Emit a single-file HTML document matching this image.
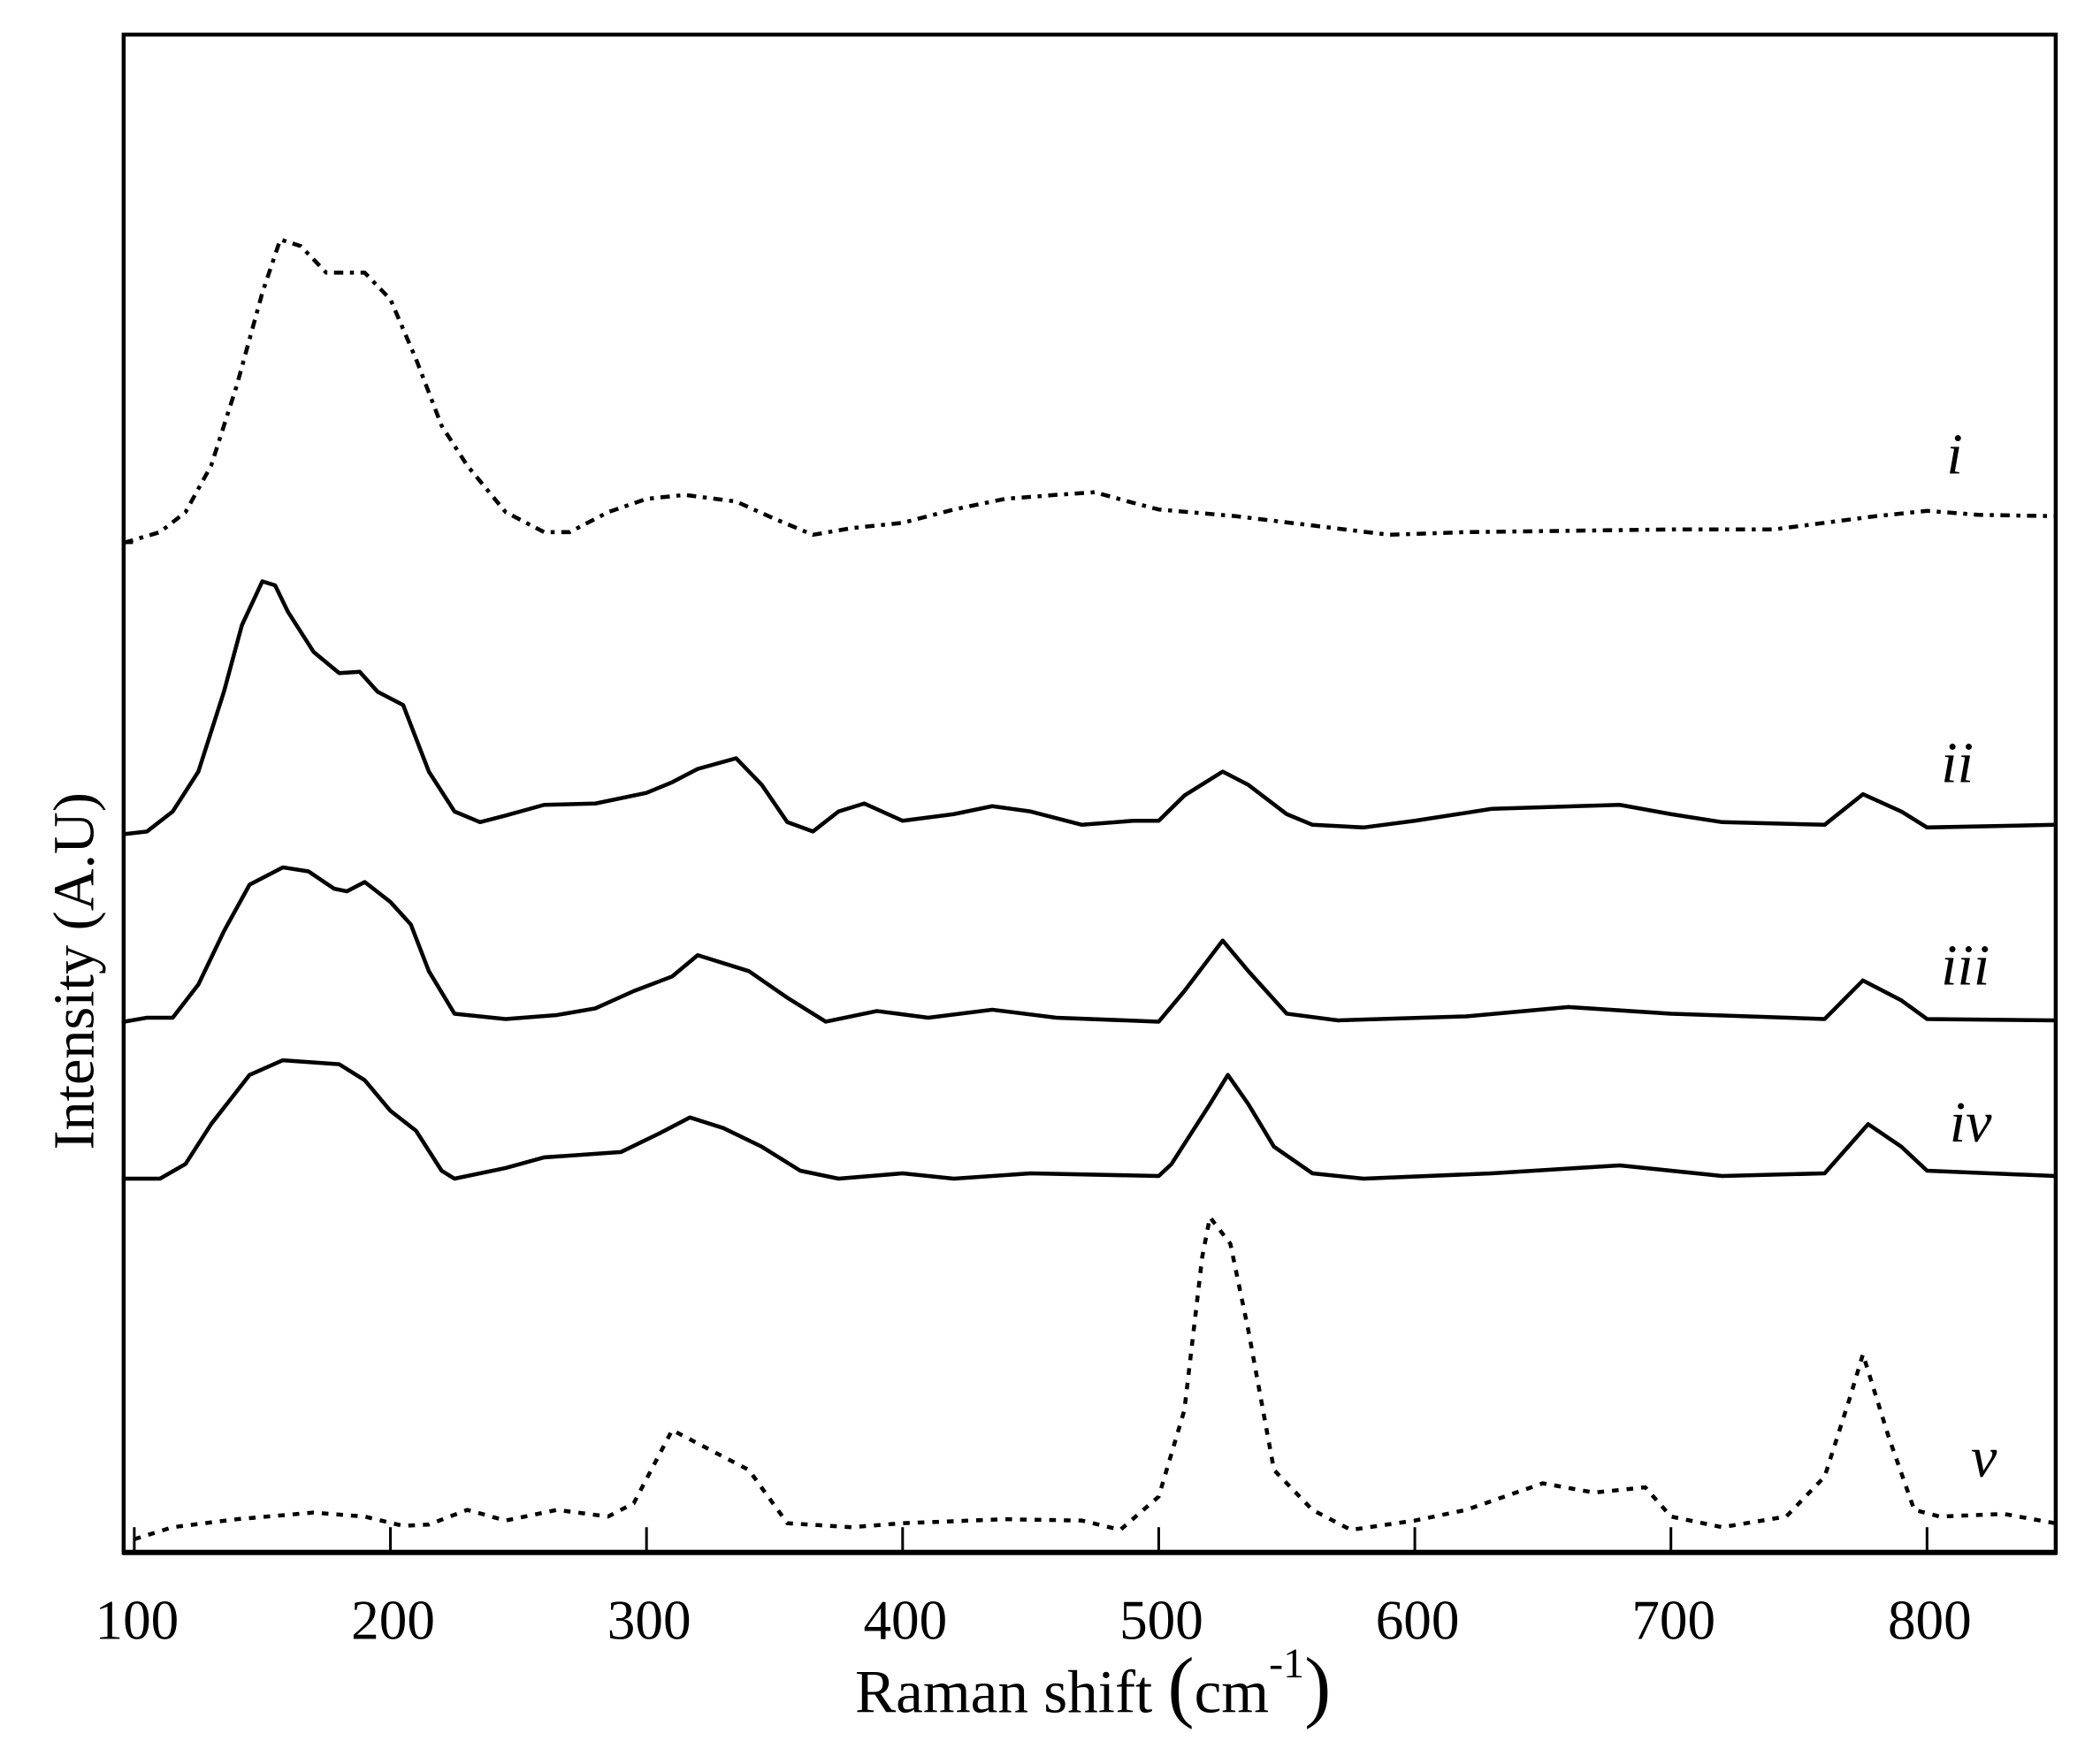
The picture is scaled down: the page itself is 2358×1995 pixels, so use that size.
<!DOCTYPE html>
<html><head><meta charset="utf-8"><style>
html,body{margin:0;padding:0;background:#fff;}
svg{display:block}
text{font-family:"Liberation Serif",serif;fill:#000}
</style></head><body>
<svg id="s" width="2358" height="1995" viewBox="0 0 1568 1326" preserveAspectRatio="none" xmlns="http://www.w3.org/2000/svg">
<rect x="0" y="0" width="1568" height="1326" fill="#fff"/>
<rect x="93" y="26" width="1453" height="1141" fill="none" stroke="#000" stroke-width="3"/>
<line x1="92" y1="1167" x2="1547" y2="1167" stroke="#000" stroke-width="4"/>
<g id="ticks" stroke="#000" stroke-width="2"></g>
<line x1="93" y1="408" x2="100" y2="408" stroke="#000" stroke-width="2"/>
<g id="curves" fill="none" stroke="#000" stroke-width="3" stroke-linejoin="round"></g>
<g id="labels" font-size="42" text-anchor="middle"></g>
<text x="822" y="1287" font-size="46" text-anchor="middle">Raman shift <tspan font-size="60">(</tspan>cm<tspan font-size="32" dy="-26">-1</tspan><tspan font-size="60" dy="26">)</tspan></text>
<text transform="translate(70,730) rotate(-90)" font-size="44" text-anchor="middle">Intensity (A.U)</text>
<g font-size="44" font-style="italic" text-anchor="middle">
<text x="1470" y="356">i</text>
<text x="1472" y="588">ii</text>
<text x="1478" y="740">iii</text>
<text x="1482" y="858">iv</text>
<text x="1492" y="1110">v</text>
</g>
</svg>
<script>
var ns="http://www.w3.org/2000/svg";
function X(w){return 101+(w-100)*1.926;}
var tk=document.getElementById('ticks'),lb=document.getElementById('labels');
for(var w=100;w<=800;w+=100){var l=document.createElementNS(ns,'line');l.setAttribute('x1',X(w));l.setAttribute('x2',X(w));l.setAttribute('y1',1148);l.setAttribute('y2',1167);tk.appendChild(l);
var t=document.createElementNS(ns,'text');t.setAttribute('x',X(w)+2);t.setAttribute('y',1232);t.textContent=w;lb.appendChild(t);}
var C=[
[[96,408],[110,400],[120,385],[130,350],[140,290],[150,220],[157,180],[165,185],[175,205],[190,205],[200,225],[210,270],[220,320],[230,350],[245,385],[260,400],[270,400],[285,385],[300,375],[315,372],[335,377],[350,390],[365,402],[380,397],[400,393],[420,383],[440,375],[460,372],[475,370],[490,378],[500,383],[530,388],[560,395],[590,402],[620,400],[700,398],[740,398],[760,393],[780,388],[800,384],[820,387],[850,388]],
[[96,627],[105,625],[115,610],[125,580],[135,520],[142,470],[150,437],[155,440],[160,460],[170,490],[180,506],[188,505],[195,520],[205,530],[215,580],[225,610],[235,618],[245,613],[260,605],[280,604],[300,596],[310,588],[320,578],[335,570],[345,590],[355,618],[365,625],[375,610],[385,604],[400,617],[420,612],[435,606],[450,610],[470,620],[490,617],[500,617],[510,598],[525,580],[535,590],[550,612],[560,620],[580,622],[600,617],[630,608],[680,605],[700,612],[720,618],[760,620],[775,597],[790,610],[800,622],[850,620]],
[[96,768],[105,765],[115,765],[125,740],[135,700],[145,665],[158,652],[168,655],[178,668],[183,670],[190,663],[200,678],[208,695],[215,730],[225,762],[245,766],[265,763],[280,758],[295,745],[310,734],[320,718],[340,730],[355,750],[370,768],[390,760],[410,765],[435,759],[460,765],[500,768],[510,745],[525,707],[535,730],[550,762],[570,767],[620,764],[660,757],[700,762],[760,766],[775,737],[790,752],[800,766],[850,767]],
[[96,886],[110,886],[120,875],[130,845],[145,808],[158,797],[180,800],[190,812],[200,835],[210,850],[220,880],[225,886],[245,878],[260,870],[290,866],[305,852],[317,840],[330,848],[345,862],[360,880],[375,886],[400,882],[420,886],[450,882],[500,884],[505,875],[520,830],[527,808],[535,830],[545,862],[560,882],[580,886],[630,882],[680,876],[720,884],[760,882],[777,845],[790,862],[800,880],[850,884]],
[[100,1157],[115,1148],[140,1142],[170,1137],[190,1140],[205,1147],[215,1146],[230,1135],[245,1143],[265,1135],[285,1140],[295,1130],[310,1075],[325,1090],[340,1105],[355,1145],[380,1148],[400,1145],[440,1142],[470,1143],[485,1150],[500,1125],[510,1060],[517,945],[520,915],[528,935],[535,1000],[545,1105],[560,1135],[575,1150],[600,1143],[620,1135],[650,1115],[670,1122],[690,1118],[700,1140],[720,1148],[745,1140],[760,1110],[770,1050],[775,1018],[785,1080],[795,1135],[805,1140],[830,1138],[850,1145]]
];
var dash=["7,5,3,5",null,null,null,"5,6"];
var g=document.getElementById('curves');
C.forEach(function(c,i){var d=c.map(function(p,j){return (j?'L':'M')+X(p[0]).toFixed(1)+','+p[1];}).join('');
var p=document.createElementNS(ns,'path');p.setAttribute('d',d);if(dash[i])p.setAttribute('stroke-dasharray',dash[i]);g.appendChild(p);});
</script>
</body></html>
